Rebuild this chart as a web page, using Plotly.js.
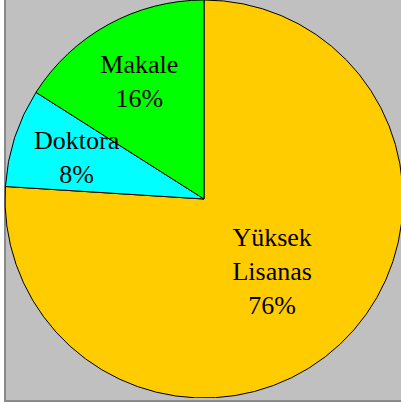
<!DOCTYPE html>
<html>
<head>
<meta charset="utf-8">
<script src="https://cdn.plot.ly/plotly-3.0.1.min.js"></script>
<style>
  html, body { margin: 0; padding: 0; background: #ffffff; overflow: hidden; width: 401px; height: 403px; }
  #bg { position: absolute; left: 4px; top: 0; width: 400px; height: 400px;
        background: #c0c0c0; border-left: 2px solid #8a8a8a; border-bottom: 2px solid #8a8a8a; }
  #chart { position: absolute; left: 0; top: 0; width: 408px; height: 398px; }
</style>
</head>
<body>
<div id="bg"></div>
<div id="chart"></div>
<script>
const categories = ["Yüksek<br>Lisanas", "Doktora", "Makale"];
const values = [76, 8, 16];
const colors = ["#FFCC00", "#00FFFF", "#00FF00"];

const W = 408, H = 398;
const FONT = { family: "Liberation Serif, Times New Roman, serif", size: 26, color: "#000000" };
const total = values.reduce((a, b) => a + b, 0);
const pct = values.map(v => Math.round(v / total * 100) + "%");

// Small slice label (Doktora) placed as an annotation at its mid-angle, derived from the data,
// because the native inside text would be shrunk to fit the thin slice.
const smallIdx = 1;
let cum = 0;
for (let i = 0; i < smallIdx; i++) cum += values[i];
const midAngle = (cum + values[smallIdx] / 2) / total * 2 * Math.PI; // clockwise from 12 o'clock
const R = Math.min(W, H) / 2;
const rr = 0.67 * R;
const ax = 0.5 + rr * Math.sin(midAngle) / W;
const ay = 0.5 + rr * Math.cos(midAngle) / H;

const templates = values.map((v, i) => i === smallIdx ? "" : "%{label}<br>%{percent}");

Plotly.newPlot("chart", [{
  type: "pie",
  labels: categories,
  values: values,
  sort: false,
  direction: "clockwise",
  rotation: 0,
  marker: { colors: colors, line: { color: "#000000", width: 1 } },
  texttemplate: templates,
  textposition: "inside",
  insidetextorientation: "horizontal",
  textfont: FONT,
  hoverinfo: "none"
}], {
  width: W, height: H,
  margin: { l: 0, r: 0, t: 0, b: 0, pad: 0 },
  paper_bgcolor: "rgba(0,0,0,0)",
  plot_bgcolor: "rgba(0,0,0,0)",
  showlegend: false,
  annotations: [{
    xref: "paper", yref: "paper", x: ax, y: ay,
    xanchor: "center", yanchor: "middle",
    text: categories[smallIdx] + "<br>" + pct[smallIdx],
    showarrow: false, font: FONT
  }]
}, { staticPlot: true });
</script>
</body>
</html>
